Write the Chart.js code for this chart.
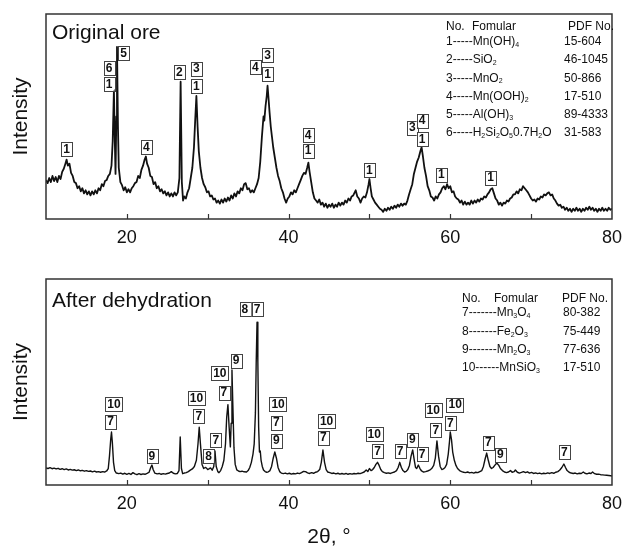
<!DOCTYPE html>
<html>
<head>
<meta charset="utf-8">
<script src="https://cdn.jsdelivr.net/npm/chart.js@4.4.1/dist/chart.umd.min.js"></script>
<style>
  html, body { margin: 0; padding: 0; background: #fff; }
  canvas { display: block; }
</style>
</head>
<body>
<canvas id="oreChart" width="630" height="262"></canvas>
<canvas id="dehydChart" width="630" height="285"></canvas>
<script>
// 2-theta (deg) vs. intensity (arbitrary, 0-100 of panel height)
const oreScan = [
  [10.0, 19], [10.2, 17.5], [10.4, 20], [10.6, 18], [10.8, 21], [11.0, 18.5], [11.2, 20.5], [11.4, 18],
  [11.6, 21], [11.8, 19.5], [12.0, 23], [12.2, 24.5], [12.4, 27], [12.55, 29], [12.7, 26], [12.9, 27],
  [13.1, 22.5], [13.3, 21], [13.5, 18], [13.7, 17.5], [13.9, 15], [14.1, 16], [14.3, 13.5], [14.5, 15],
  [14.7, 12.5], [14.9, 14], [15.1, 12], [15.3, 13.5], [15.5, 11.5], [15.7, 13.5], [15.9, 12], [16.1, 14],
  [16.3, 12.5], [16.5, 15], [16.7, 14], [16.9, 17], [17.1, 16], [17.3, 18.5], [17.5, 19], [17.7, 21],
  [17.9, 22], [18.1, 26], [18.25, 38], [18.4, 63], [18.5, 40], [18.6, 22], [18.7, 50], [18.78, 84],
  [18.9, 45], [19.0, 25], [19.2, 18], [19.4, 16.5], [19.6, 14], [19.8, 15.5], [20.0, 13], [20.2, 14.5],
  [20.4, 13], [20.6, 15], [20.8, 16], [21.0, 17.5], [21.2, 18], [21.4, 21], [21.6, 20], [21.8, 24],
  [22.0, 26], [22.2, 29], [22.35, 30.5], [22.5, 27], [22.7, 25], [22.9, 21], [23.1, 20.5], [23.3, 17],
  [23.5, 18], [23.7, 15], [23.9, 16], [24.1, 13.5], [24.3, 14.5], [24.5, 12.5], [24.7, 13.5], [24.9, 11.5],
  [25.1, 13], [25.3, 11], [25.5, 12.5], [25.7, 11], [25.9, 13], [26.1, 11.5], [26.3, 13], [26.5, 20],
  [26.65, 67], [26.8, 18], [26.95, 9], [27.1, 11], [27.3, 10], [27.5, 13], [27.7, 15], [27.9, 20],
  [28.1, 25], [28.3, 35], [28.45, 48], [28.6, 60], [28.75, 45], [28.9, 33], [29.1, 25], [29.3, 20],
  [29.5, 17], [29.7, 15.5], [29.9, 13], [30.1, 13.5], [30.3, 11], [30.5, 11.5], [30.7, 9.5], [30.9, 10],
  [31.1, 8], [31.3, 9], [31.5, 7.5], [31.7, 9.5], [31.9, 8], [32.1, 10], [32.3, 8.5], [32.5, 10.5],
  [32.7, 9], [32.9, 11.5], [33.1, 10], [33.3, 12.5], [33.5, 11], [33.7, 13.5], [33.9, 12.5], [34.1, 15],
  [34.3, 14], [34.5, 17], [34.7, 17.5], [34.9, 14.5], [35.1, 15], [35.3, 13], [35.5, 14], [35.7, 13],
  [35.9, 15], [36.1, 17], [36.3, 20], [36.5, 28], [36.7, 40], [36.9, 50], [37.0, 48], [37.15, 55],
  [37.3, 60], [37.4, 65], [37.5, 60], [37.65, 52], [37.8, 45], [37.95, 40], [38.1, 35], [38.3, 30],
  [38.5, 25], [38.7, 21], [38.9, 18.5], [39.1, 15], [39.3, 13], [39.5, 10], [39.7, 8], [39.9, 10],
  [40.1, 11], [40.3, 13], [40.5, 12], [40.7, 14], [40.9, 13], [41.1, 15], [41.3, 17], [41.5, 19],
  [41.7, 21], [41.9, 22.5], [42.1, 22], [42.3, 25], [42.45, 27.5], [42.6, 23], [42.8, 18], [43.0, 13],
  [43.2, 10], [43.4, 9], [43.6, 8], [43.8, 9.5], [44.0, 7], [44.2, 8], [44.4, 6], [44.6, 7.5],
  [44.8, 5.5], [45.0, 7], [45.2, 6], [45.4, 7.5], [45.6, 5.5], [45.8, 7], [46.0, 6], [46.2, 8],
  [46.4, 6.5], [46.6, 8], [46.8, 7], [47.0, 9], [47.2, 8], [47.4, 10], [47.6, 9], [47.8, 11],
  [48.0, 11.5], [48.3, 14], [48.5, 11], [48.7, 10], [48.9, 8], [49.1, 10], [49.3, 11], [49.5, 10.5],
  [49.7, 13], [49.9, 17], [50.0, 19.5], [50.15, 15], [50.3, 11], [50.5, 9.5], [50.7, 8], [50.9, 7],
  [51.1, 6], [51.3, 5], [51.5, 4.5], [51.7, 3.5], [51.9, 5], [52.1, 4], [52.3, 5.5], [52.5, 4.5],
  [52.7, 6], [52.9, 5], [53.1, 6.5], [53.3, 5.5], [53.5, 7], [53.7, 6], [53.9, 7.5], [54.1, 6.5],
  [54.3, 7.5], [54.5, 7], [54.7, 9], [54.9, 12], [55.1, 14.5], [55.3, 17], [55.5, 22], [55.7, 25],
  [55.9, 28], [56.1, 30], [56.3, 33], [56.45, 35], [56.6, 31], [56.8, 25], [57.0, 21], [57.2, 16],
  [57.4, 14], [57.6, 11], [57.8, 10.5], [58.0, 9], [58.2, 11], [58.4, 10], [58.6, 12], [58.8, 13],
  [59.0, 15], [59.2, 16], [59.4, 14.5], [59.6, 17], [59.8, 15], [60.0, 16], [60.2, 13], [60.4, 13.5],
  [60.6, 11], [60.8, 10], [61.0, 9.5], [61.2, 8], [61.4, 9], [61.6, 7], [61.8, 8.5], [62.0, 7],
  [62.2, 8], [62.4, 7], [62.6, 9], [62.8, 7.5], [63.0, 9], [63.2, 8], [63.4, 9.5], [63.6, 8.5],
  [63.8, 10], [64.0, 9.5], [64.2, 11], [64.4, 10.5], [64.6, 12], [64.8, 13], [65.0, 14.5], [65.2, 15],
  [65.4, 12.5], [65.6, 10], [65.8, 9], [66.0, 7], [66.2, 8], [66.4, 6.5], [66.6, 8], [66.8, 7.5],
  [67.0, 9], [67.2, 8.5], [67.4, 10], [67.6, 10.5], [67.8, 12], [68.0, 12], [68.2, 13.5], [68.4, 12.5],
  [68.6, 14.5], [68.8, 14], [69.0, 16], [69.2, 15], [69.4, 14], [69.6, 13], [69.8, 11.5], [70.0, 10],
  [70.2, 9], [70.4, 9.5], [70.6, 8.5], [70.8, 10], [71.0, 9.5], [71.2, 11], [71.4, 10.5], [71.6, 12],
  [71.8, 11.5], [72.0, 12.5], [72.2, 13], [72.4, 11.5], [72.6, 12], [72.8, 10], [73.0, 9], [73.2, 7.5],
  [73.4, 6.5], [73.6, 7], [73.8, 5.5], [74.0, 6], [74.2, 4.5], [74.4, 5.5], [74.6, 4], [74.8, 5],
  [75.0, 3.5], [75.2, 5], [75.4, 4], [75.6, 5.5], [75.8, 4], [76.0, 5], [76.2, 3.5], [76.4, 5],
  [76.6, 4], [76.8, 5.5], [77.0, 4.5], [77.2, 6], [77.4, 4.5], [77.6, 5.5], [77.8, 4], [78.0, 5],
  [78.2, 3.5], [78.4, 5], [78.6, 4], [78.8, 5.5], [79.0, 4], [79.2, 5], [79.4, 4], [79.6, 5.5],
  [79.8, 4.5], [80.0, 5]
];

const dehydScan = [
  [10.0, 8.3], [10.25, 8.0], [10.5, 8.4], [10.75, 7.9], [11.0, 8.2], [11.25, 7.8], [11.5, 8.1], [11.75, 7.6],
  [12.0, 7.9], [12.25, 7.5], [12.5, 7.8], [12.75, 7.3], [13.0, 7.6], [13.25, 7.2], [13.5, 7.4], [13.75, 7.0],
  [14.0, 7.3], [14.25, 6.9], [14.5, 7.1], [14.75, 6.7], [15.0, 7.0], [15.25, 6.6], [15.5, 6.8], [15.75, 6.4],
  [16.0, 6.7], [16.25, 6.3], [16.5, 6.5], [16.75, 6.2], [17.0, 6.5], [17.25, 6.3], [17.5, 6.8], [17.7, 8],
  [17.85, 14], [18.0, 22], [18.1, 25.7], [18.2, 21], [18.35, 11], [18.5, 7], [18.7, 5.8], [19.0, 5.5],
  [19.25, 5.8], [19.5, 5.3], [19.75, 5.7], [20.0, 5.2], [20.25, 5.6], [20.5, 5.1], [20.75, 6.0], [21.0, 5.4],
  [21.25, 5.0], [21.5, 5.5], [21.75, 5.1], [22.0, 5.4], [22.25, 5.2], [22.5, 5.6], [22.75, 6.2], [22.95, 8.5],
  [23.1, 9.7], [23.25, 7.5], [23.45, 5.8], [23.75, 5.4], [24.0, 5.6], [24.25, 5.2], [24.5, 5.5], [24.75, 5.3],
  [25.0, 5.6], [25.25, 5.8], [25.5, 6.5], [25.75, 5.7], [26.0, 5.4], [26.25, 5.6], [26.45, 7], [26.6, 23.3],
  [26.75, 8], [26.9, 5.5], [27.1, 5.8], [27.35, 6.0], [27.6, 6.5], [27.85, 7.2], [28.1, 7.8], [28.35, 9],
  [28.6, 12], [28.8, 20], [28.95, 28], [29.1, 20], [29.3, 10], [29.5, 8], [29.7, 8.5], [29.85, 8.2],
  [30.0, 7.5], [30.15, 7.8], [30.35, 8.3], [30.55, 7.2], [30.75, 9], [30.9, 16.5], [31.05, 9], [31.25, 6.5],
  [31.4, 6], [31.6, 7], [31.8, 9], [32.0, 12], [32.2, 20], [32.35, 33], [32.5, 39], [32.65, 28],
  [32.8, 18.5], [32.9, 30], [33.0, 55.8], [33.1, 40], [33.25, 18], [33.4, 10], [33.6, 7.3], [33.8, 6.8],
  [34.0, 6.5], [34.25, 6.7], [34.5, 6.4], [34.8, 6.3], [35.0, 7], [35.2, 8.5], [35.4, 11], [35.6, 15],
  [35.75, 20], [35.9, 35], [36.0, 60], [36.1, 79], [36.2, 60], [36.3, 28], [36.4, 16], [36.5, 16.5],
  [36.6, 12], [36.75, 9], [36.9, 7.3], [37.1, 6.5], [37.3, 6.2], [37.5, 6.4], [37.7, 7], [37.9, 9],
  [38.1, 13], [38.3, 16], [38.5, 13], [38.7, 8.5], [38.9, 6.5], [39.1, 5.8], [39.35, 5.5], [39.6, 5.8],
  [39.85, 5.4], [40.1, 5.7], [40.35, 5.3], [40.6, 5.6], [40.85, 5.4], [41.1, 5.8], [41.35, 5.5], [41.6, 6.0],
  [41.85, 6.6], [42.1, 6.5], [42.35, 5.9], [42.6, 5.6], [42.85, 6.0], [43.1, 5.7], [43.35, 6.2], [43.6, 6.5],
  [43.85, 7.5], [44.05, 11], [44.25, 17], [44.45, 11], [44.65, 7.5], [44.85, 6.3], [45.1, 6.0], [45.35, 5.6],
  [45.6, 5.8], [45.85, 5.4], [46.1, 5.7], [46.35, 5.3], [46.6, 5.6], [46.85, 5.3], [47.1, 5.6], [47.35, 5.2],
  [47.6, 5.5], [47.85, 5.3], [48.1, 5.6], [48.35, 5.4], [48.6, 5.7], [48.85, 5.5], [49.1, 5.9], [49.35, 6.3],
  [49.6, 7.3], [49.8, 6.5], [50.0, 8], [50.2, 7], [50.4, 7.5], [50.6, 8.5], [50.8, 10], [51.0, 11],
  [51.2, 9.5], [51.4, 7.5], [51.6, 6.5], [51.85, 6.0], [52.1, 5.7], [52.35, 5.9], [52.6, 5.6], [52.85, 6.0],
  [53.1, 6.3], [53.35, 7], [53.55, 8.5], [53.75, 11], [53.95, 8.5], [54.15, 7], [54.35, 6.3], [54.55, 6.6],
  [54.75, 7.5], [54.95, 9.5], [55.15, 14], [55.35, 17], [55.55, 12], [55.7, 8.5], [55.85, 8], [56.05, 9.7],
  [56.25, 8], [56.45, 6.8], [56.7, 6.3], [56.95, 6.5], [57.2, 6.8], [57.45, 7.2], [57.7, 8], [57.95, 9.5],
  [58.15, 13], [58.35, 21.4], [58.55, 14], [58.75, 9], [58.95, 7.5], [59.15, 7.8], [59.35, 8.5], [59.55, 10],
  [59.75, 15], [59.9, 21], [60.0, 25.7], [60.15, 22], [60.3, 16], [60.5, 12], [60.7, 9.5], [60.9, 8],
  [61.15, 7], [61.4, 6.5], [61.65, 6.2], [61.9, 6.0], [62.15, 6.3], [62.4, 5.9], [62.65, 6.1], [62.9, 5.8],
  [63.15, 6.2], [63.4, 6.0], [63.65, 6.5], [63.9, 7], [64.1, 9], [64.3, 12.5], [64.5, 15.5], [64.7, 12],
  [64.9, 9], [65.1, 8], [65.3, 8.5], [65.5, 9.5], [65.75, 10.7], [66.0, 9.5], [66.2, 8], [66.45, 7],
  [66.7, 6.3], [66.95, 6.0], [67.2, 6.3], [67.45, 7], [67.65, 6.2], [67.9, 6.5], [68.05, 7.3], [68.3, 6.2],
  [68.55, 5.8], [68.8, 6.1], [69.05, 6.5], [69.3, 6.0], [69.55, 6.4], [69.8, 5.8], [70.05, 6.1], [70.3, 5.6],
  [70.55, 5.9], [70.8, 5.5], [71.05, 5.8], [71.3, 5.4], [71.55, 5.7], [71.8, 5.5], [72.05, 5.9], [72.3, 5.6],
  [72.55, 6.0], [72.8, 5.7], [73.05, 6.2], [73.3, 6.5], [73.55, 7.3], [73.8, 8.5], [74.05, 10.2], [74.25, 8.5],
  [74.45, 7], [74.7, 6.2], [74.95, 5.8], [75.2, 5.6], [75.45, 5.8], [75.7, 5.4], [75.95, 5.7], [76.2, 5.6],
  [76.45, 6.3], [76.65, 5.7], [76.9, 5.4], [77.15, 5.8], [77.4, 5.6], [77.6, 6.3], [77.85, 5.5], [78.1, 5.2],
  [78.35, 5.3], [78.6, 5.0], [78.85, 4.9], [79.1, 4.8], [79.35, 4.7], [79.6, 4.6], [79.85, 4.5], [80.0, 4.4]
];

// phase tags: [2-theta, intensity, phase no.]
const oreTags = [
  [12.55, 34, '1'], [17.8, 73.7, '6'], [17.8, 66, '1'], [19.6, 81, '5'], [22.4, 35, '4'],
  [26.5, 71.5, '2'], [28.6, 73.4, '3'], [28.6, 65, '1'], [35.9, 74, '4'], [37.4, 79.8, '3'],
  [37.4, 70.5, '1'], [42.4, 41, '4'], [42.4, 33.4, '1'], [50.0, 23.7, '1'], [55.3, 44.6, '3'],
  [56.5, 48, '4'], [56.5, 38.8, '1'], [58.9, 21.7, '1'], [65.0, 20.2, '1']
];
const dehydTags = [
  [18.4, 39.3, '10'], [18.0, 30.8, '7'], [23.1, 14, '9'], [28.6, 42.2, '10'], [28.9, 33.3, '7'],
  [30.1, 14, '8'], [31.0, 21.8, '7'], [31.5, 54.4, '10'], [32.0, 44.9, '7'], [33.5, 60.4, '9'],
  [34.6, 85.4, '8'], [36.1, 85.2, '7'], [38.7, 39.3, '10'], [38.5, 30.3, '7'], [38.5, 21.6, '9'],
  [44.7, 31, '10'], [44.3, 23, '7'], [50.6, 24.8, '10'], [51.0, 16.3, '7'], [53.8, 16.3, '7'],
  [55.3, 22, '9'], [56.5, 15, '7'], [57.9, 36.4, '10'], [58.2, 26.5, '7'], [60.6, 39, '10'],
  [60.0, 30, '7'], [64.7, 20.6, '7'], [66.2, 14.8, '9'], [74.1, 15.8, '7']
];

// phase tables ("_" marks a subscript character)
const orePhases = [
  ['1-----Mn(OH)_4', '15-604'],
  ['2-----SiO_2', '46-1045'],
  ['3-----MnO_2', '50-866'],
  ['4-----Mn(OOH)_2', '17-510'],
  ['5-----Al(OH)_3', '89-4333'],
  ['6-----H_2Si_2O_50.7H_2O', '31-583']
];
const dehydPhases = [
  ['7-------Mn_3O_4', '80-382'],
  ['8-------Fe_2O_3', '75-449'],
  ['9-------Mn_2O_3', '77-636'],
  ['10------MnSiO_3', '17-510']
];

const tickLabels = [20, 40, 60, 80];

const FONT = '"Liberation Sans", Arial, sans-serif';

function drawRich(ctx, str, x, y, size) {
  let cx = x;
  for (let i = 0; i < str.length; i++) {
    if (str[i] === '_' && i + 1 < str.length) {
      ctx.font = Math.round(size * 0.62) + 'px ' + FONT;
      ctx.fillText(str[i + 1], cx, y + size * 0.28);
      cx += ctx.measureText(str[i + 1]).width;
      i++;
    } else {
      ctx.font = size + 'px ' + FONT;
      ctx.fillText(str[i], cx, y);
      cx += ctx.measureText(str[i]).width;
    }
  }
}

const xrdDecor = {
  id: 'xrdDecor',
  afterDraw(chart, args, opts) {
    const ctx = chart.ctx;
    const a = chart.chartArea;
    const xs = chart.scales.x, ys = chart.scales.y;
    ctx.save();

    // frame and inward ticks
    ctx.strokeStyle = '#333';
    ctx.lineWidth = 1.5;
    ctx.strokeRect(a.left, a.top, a.right - a.left, a.bottom - a.top);
    ctx.lineWidth = 1.2;
    xs.ticks.forEach(t => {
      if (t.value <= xs.min || t.value >= xs.max) return;
      const px = Math.round(xs.getPixelForValue(t.value)) + 0.5;
      ctx.beginPath();
      ctx.moveTo(px, a.bottom);
      ctx.lineTo(px, a.bottom - 5);
      ctx.stroke();
    });

    ctx.fillStyle = '#111';
    // y title
    ctx.save();
    ctx.translate(21, (a.top + a.bottom) / 2);
    ctx.rotate(-Math.PI / 2);
    ctx.font = '21px ' + FONT;
    ctx.textAlign = 'center';
    ctx.textBaseline = 'middle';
    ctx.fillText('Intensity', 0, 0);
    ctx.restore();

    // panel title
    ctx.font = '21px ' + FONT;
    ctx.textAlign = 'left';
    ctx.textBaseline = 'alphabetic';
    ctx.fillText(opts.title, a.left + 6, a.top + opts.titleDy);

    // x title
    if (opts.xTitle) {
      ctx.textAlign = 'center';
      ctx.textBaseline = 'middle';
      ctx.fillText(opts.xTitle, (a.left + a.right) / 2, a.bottom + 52);
    }

    // phase tags
    ctx.font = 'bold 12px ' + FONT;
    ctx.textAlign = 'center';
    ctx.textBaseline = 'middle';
    opts.tags.forEach(([th, lev, txt]) => {
      const px = xs.getPixelForValue(th);
      const py = ys.getPixelForValue(lev);
      const w = ctx.measureText(txt).width + 4;
      const h = 14;
      ctx.fillStyle = '#fff';
      ctx.fillRect(px - w / 2, py - h / 2, w, h);
      ctx.strokeStyle = '#444';
      ctx.lineWidth = 1;
      ctx.strokeRect(Math.round(px - w / 2) + 0.5, Math.round(py - h / 2) + 0.5, Math.round(w), h);
      ctx.fillStyle = '#111';
      ctx.fillText(txt, px, py + 0.5);
    });

    // phase table
    const L = opts.table;
    ctx.textAlign = 'left';
    ctx.textBaseline = 'middle';
    ctx.fillStyle = '#111';
    ctx.font = L.size + 'px ' + FONT;
    ctx.fillText('No.', L.x0, L.headY);
    ctx.fillText('Fomular', L.xFormula, L.headY);
    ctx.fillText('PDF No.', L.xPdfHead, L.headY);
    opts.phases.forEach(([f, pdf], i) => {
      const y = L.firstY + i * L.step;
      drawRich(ctx, f, L.x0, y, L.size);
      ctx.font = L.size + 'px ' + FONT;
      ctx.fillText(pdf, L.xPdf, y);
    });

    ctx.restore();
  }
};

function makeChart(id, scan, lineW, fitX, pad, decor) {
  return new Chart(document.getElementById(id), {
    type: 'line',
    data: {
      datasets: [{
        data: scan.map(([x, y]) => ({ x, y })),
        borderColor: '#111',
        borderWidth: lineW,
        borderJoinStyle: 'round',
        pointRadius: 0,
        tension: 0,
        fill: false
      }]
    },
    options: {
      responsive: false,
      animation: false,
      devicePixelRatio: 1,
      layout: { padding: pad },
      plugins: {
        legend: { display: false },
        tooltip: { enabled: false },
        xrdDecor: decor
      },
      scales: {
        x: {
          type: 'linear',
          min: 10,
          max: 80,
          grid: { display: false, drawTicks: false },
          border: { display: false },
          afterFit: s => { s.height = fitX; },
          ticks: {
            stepSize: 10,
            autoSkip: false,
            maxRotation: 0,
            padding: 8,
            color: '#111',
            font: { family: FONT, size: 18 },
            callback: v => tickLabels.includes(v) ? String(v) : ''
          }
        },
        y: {
          min: 0,
          max: 100,
          grid: { display: false, drawTicks: false },
          border: { display: false },
          ticks: { display: false },
          afterFit: s => { s.width = 46; }
        }
      }
    },
    plugins: [xrdDecor]
  });
}

makeChart('oreChart', oreScan, 1.8, 43, { top: 14, right: 9, left: 0, bottom: 0 }, {
  title: 'Original ore',
  titleDy: 25,
  tags: oreTags,
  phases: orePhases,
  table: { size: 12, x0: 446, xFormula: 472, xPdfHead: 568, xPdf: 564, headY: 27, firstY: 42, step: 18.1 }
});

makeChart('dehydChart', dehydScan, 1.4, 62, { top: 17, right: 9, left: 0, bottom: 0 }, {
  title: 'After dehydration',
  titleDy: 28,
  xTitle: '2\u03b8, \u00b0',
  tags: dehydTags,
  phases: dehydPhases,
  table: { size: 12, x0: 462, xFormula: 494, xPdfHead: 562, xPdf: 563, headY: 37, firstY: 51, step: 18.3 }
});
</script>
</body>
</html>
